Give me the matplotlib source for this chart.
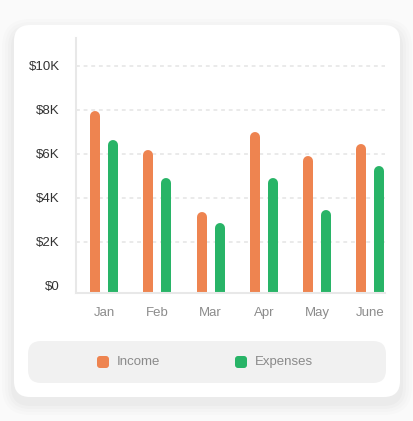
import matplotlib.pyplot as plt
from matplotlib.patches import FancyBboxPatch
from matplotlib.ticker import FuncFormatter

months = ['Jan', 'Feb', 'Mar', 'Apr', 'May', 'June']
income = [7950, 6150, 3350, 7000, 5900, 6450]
expenses = [6600, 4900, 2850, 4900, 3450, 5450]
series_names = ['Income', 'Expenses']
y_ticks = [0, 2000, 4000, 6000, 8000, 10000]

ORANGE = '#ee8450'
GREEN = '#28b467'
W, H = 414, 421

plt.rcParams['font.family'] = ['Liberation Sans', 'DejaVu Sans']

fig = plt.figure(figsize=(W / 100, H / 100), dpi=100, facecolor='#fafafa')

# background layer in pixel coordinates (card, shadow, legend box)
bg = fig.add_axes([0, 0, 1, 1], zorder=0)
bg.set_xlim(0, W)
bg.set_ylim(H, 0)
bg.axis('off')


def rounded(x0, y0, x1, y1, r, **kw):
    p = FancyBboxPatch((x0 + r, y0 + r), x1 - x0 - 2 * r, y1 - y0 - 2 * r,
                       boxstyle=f'round,pad={r}', **kw)
    bg.add_patch(p)
    return p


# soft shadow under the card
for i, a in enumerate([0.010, 0.012, 0.015, 0.018]):
    g = 12 - 3 * i
    rounded(14 - g, 25 - g + 6, 400 + g, 397 + g + 6, 16 + g,
            facecolor='#000000', edgecolor='none', alpha=a)
rounded(14, 25, 400, 397, 16, facecolor='white', edgecolor='none')

# legend
rounded(28, 341, 386, 383, 13, facecolor='#f1f1f1', edgecolor='none')
for cx, tx, col, name in [(103, 117, ORANGE, series_names[0]),
                          (241, 255, GREEN, series_names[1])]:
    rounded(cx - 6, 356, cx + 6, 368, 3, facecolor=col, edgecolor='none')
    bg.text(tx, 362, name, fontsize=9.5, color='#8a8a8a', va='center', ha='left')

# main chart
ax = fig.add_axes([76 / W, 1 - 292.7 / H, 309 / W, (292.7 - 38.3) / H], zorder=1)
ax.patch.set_alpha(0)
ax.set_xlim(-0.53, 5.28)
ax.set_ylim(-318, 11245)

x = list(range(len(months)))
off = 0.169

# bar tops are rounded caps: shorten the line by half its width
fig.canvas.draw()
px_per_unit = ax.transData.transform((0, 1000))[1] - ax.transData.transform((0, 0))[1]
cap = 5 / px_per_unit * 1000

lc1 = ax.vlines([i - off for i in x], -318, [v - cap for v in income],
                color=ORANGE, linewidth=7.2)
lc2 = ax.vlines([i + off for i in x], -318, [v - cap for v in expenses],
                color=GREEN, linewidth=7.2)
for lc in (lc1, lc2):
    lc.set_capstyle('round')

ax.set_yticks(y_ticks)
ax.yaxis.set_major_formatter(FuncFormatter(lambda v, p: '$0' if v == 0 else f'${int(v / 1000)}K'))
ax.set_xticks(x)
ax.set_xticklabels(months)

ax.grid(axis='y', color='#e4e4e4', linestyle=(0, (2.5, 2.5)), linewidth=1.1)
ax.get_ygridlines()[0].set_visible(False)
ax.set_axisbelow(True)

for s in ['top', 'right']:
    ax.spines[s].set_visible(False)
for s in ['left', 'bottom']:
    ax.spines[s].set_color('#e8e8e8')
    ax.spines[s].set_linewidth(1.5)

ax.tick_params(axis='y', length=0, pad=11.5, labelsize=9.5, labelcolor='#333333')
ax.tick_params(axis='x', length=0, pad=10, labelsize=9.5, labelcolor='#8c8c8c')

fig.savefig('out.png', dpi=100, facecolor=fig.get_facecolor())
